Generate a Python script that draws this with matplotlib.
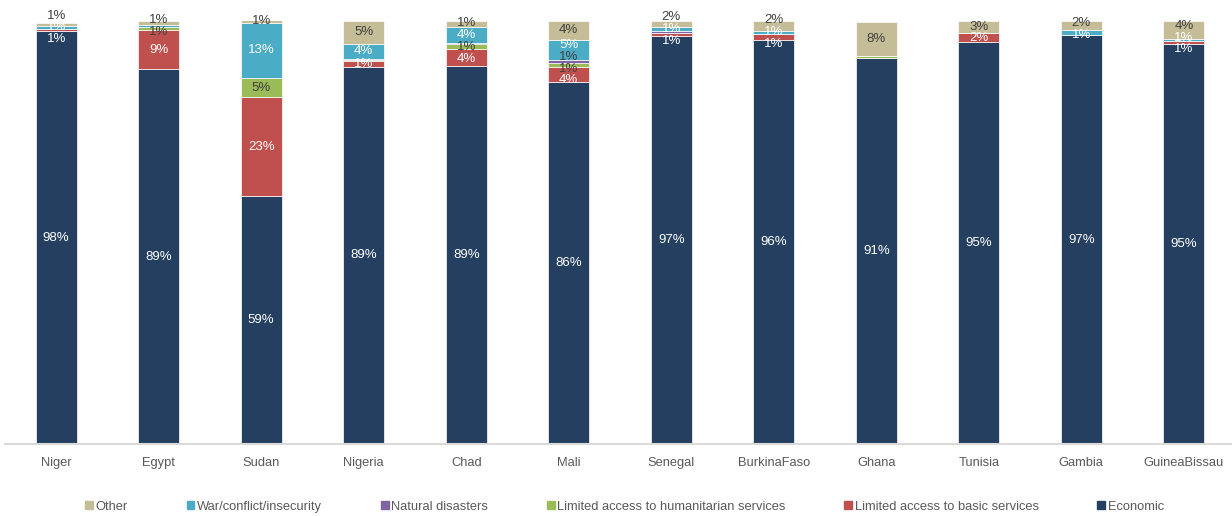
import matplotlib.pyplot as plt
import numpy as np
from matplotlib.patches import Patch

plt.rcParams['font.family'] = ['Liberation Sans', 'DejaVu Sans']

paises = ["Niger", "Egypt", "Sudan", "Nigeria", "Chad", "Mali", "Senegal",
          "BurkinaFaso", "Ghana", "Tunisia", "Gambia", "GuineaBissau"]

# valores en %
economic = [97.6, 88.6, 58.6, 89.2, 89.4, 85.6, 96.5, 95.6, 91.4, 95.1, 96.7, 94.6]
basic = [0.6, 9.2, 23.4, 1.3, 4.0, 3.6, 0.8, 1.4, 0.0, 2.0, 0.0, 0.6]
humanitarian = [0.0, 0.8, 4.6, 0.3, 1.1, 0.9, 0.0, 0.0, 0.3, 0.0, 0.0, 0.0]
natural = [0.0, 0.0, 0.0, 0.3, 0.4, 0.8, 0.3, 0.0, 0.0, 0.0, 0.0, 0.0]
war = [0.6, 0.4, 13.0, 3.6, 3.7, 4.7, 0.9, 0.6, 0.0, 0.0, 1.2, 0.6]
other = [0.8, 1.1, 0.7, 5.4, 1.4, 4.4, 1.5, 2.4, 8.2, 2.9, 2.1, 4.2]

series = [
    ("Economic", economic, "#243F60", "white"),
    ("Limited access to basic services", basic, "#C0504D", "white"),
    ("Limited access to humanitarian services", humanitarian, "#9BBB59", "#404040"),
    ("Natural disasters", natural, "#8064A2", "#404040"),
    ("War/conflict/insecurity", war, "#4BACC6", "white"),
    ("Other", other, "#C4BD97", "#404040"),
]


def separar(ys, gap):
    """Reparte las etiquetas de una barra para que no se pisen tanto."""
    grupos = [[y] for y in sorted(ys)]
    centros = [y for y in sorted(ys)]
    cambiado = True
    while cambiado:
        cambiado = False
        pos = []
        for g, c in zip(grupos, centros):
            n = len(g)
            pos.append([c + (k - (n - 1) / 2) * gap for k in range(n)])
        for j in range(len(grupos) - 1):
            if pos[j + 1][0] - pos[j][-1] < gap - 1e-9:
                g = grupos[j] + grupos[j + 1]
                grupos[j:j + 2] = [g]
                centros[j:j + 2] = [sum(g) / len(g)]
                cambiado = True
                break
    res = []
    for g, c in zip(grupos, centros):
        n = len(g)
        res += [c + (k - (n - 1) / 2) * gap for k in range(n)]
    return res


fig = plt.figure(figsize=(12.32, 5.16), dpi=100)
ax = fig.add_axes([0.004, 0.1395, 0.996, 0.8195])

x = np.arange(len(paises))
base = np.zeros(len(paises))
etiquetas = [[] for _ in paises]
for nombre, vals, color, color_txt in series:
    vals = np.array(vals)
    ax.bar(x, vals, width=0.4, bottom=base, color=color,
           edgecolor="white", linewidth=0.5, label=nombre)
    for i, v in enumerate(vals):
        if v >= 0.5:
            etiquetas[i].append((base[i] + v / 2, f"{int(v + 0.5)}%", color_txt))
    base = base + vals

for i, lista in enumerate(etiquetas):
    lista.sort(key=lambda e: e[0])
    ys = separar([e[0] for e in lista], 2.8)
    for (y0, txt, col), y in zip(lista, ys):
        ax.text(x[i], y, txt, ha="center", va="center", color=col,
                fontsize=9.5, clip_on=False)

ax.set_ylim(0, 100)
ax.set_xlim(-0.5, 11.47)
for s in ["top", "right", "left"]:
    ax.spines[s].set_visible(False)
ax.spines["bottom"].set_color("#d9d9d9")
ax.spines["bottom"].set_linewidth(1.5)
ax.set_yticks([])
ax.set_xticks(x)
ax.set_xticklabels(paises, fontsize=9.3, color="#595959")
ax.tick_params(axis="x", length=0, pad=9)

# leyenda en orden inverso
handles = [Patch(color=c, label=n) for n, v, c, t in series[::-1]]
fig.legend(handles=handles, loc="center", bbox_to_anchor=(0.507, 0.018),
           ncol=6, frameon=False, fontsize=9.3, handlelength=0.6,
           handleheight=0.6, handletextpad=0.2, columnspacing=4.55,
           labelcolor="#595959")

fig.savefig("out.png", dpi=100)
